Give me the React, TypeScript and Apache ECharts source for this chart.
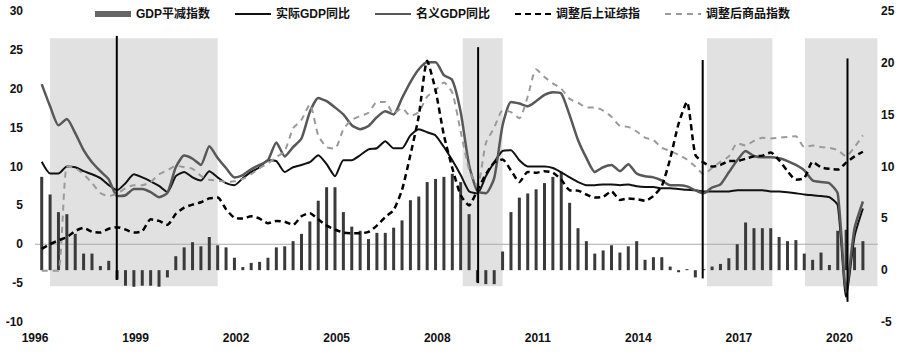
import React, { useEffect, useRef } from "react";
import * as echarts from "echarts";

// ---- data (quarterly, 1996Q1 .. 2020Q3) ----
const years = [1996, 1997, 1998, 1999, 2000, 2001, 2002, 2003, 2004, 2005, 2006, 2007, 2008, 2009, 2010, 2011, 2012, 2013, 2014, 2015, 2016, 2017, 2018, 2019, 2020];
const quarterNames = ["Q1", "Q2", "Q3", "Q4"];
const tickYears = [1996, 1999, 2002, 2005, 2008, 2011, 2014, 2017, 2020];

// GDP deflator (right axis)
const deflator = [
  9.0, 7.3, 5.6, 5.4, 3.5, 1.6, 1.6, 0.4, 0.9, -0.9,
  -1.5, -1.6, -1.5, -1.5, -1.6, -0.7, 1.35, 2.2, 2.7, 2.3,
  3.2, 2.4, 2.2, 1.2, 0.3, 0.7, 0.8, 1.2, 2.2, 2.3,
  2.8, 3.5, 4.7, 6.7, 8.0, 8.0, 5.6, 4.2, 3.8, 3.0,
  3.6, 3.6, 4.1, 4.8, 6.75, 7.1, 8.5, 8.8, 9.0, 9.3,
  8.5, 5.4, -1.2, -1.35, -1.35, 1.8, 5.6, 7.0, 7.4, 7.8,
  8.4, 9.0, 9.5, 6.5, 4.05, 2.8, 1.6, 1.9, 2.4, 1.7,
  2.3, 2.8, 1.0, 1.25, 1.25, 0.35, -0.2, 0.1, -0.7, 0.1,
  0.35, 0.6, 1.15, 2.5, 4.6, 4.05, 4.05, 4.05, 3.2, 2.8,
  2.9, 1.6, 1.0, 1.7, 0.5, 3.8, 3.9, 2.2, 2.8,
];

// Real GDP YoY (left axis)
const realGdp = [
  10.6, 9.1, 9.1, 10.0, 9.9, 9.4, 9.0, 8.5, 7.6, 6.95,
  7.85, 9.0, 8.6, 8.1, 7.5, 6.7, 8.75, 9.3, 8.6, 8.2,
  9.4, 8.6, 7.85, 7.6, 8.5, 9.3, 9.9, 10.8, 10.7, 9.3,
  9.9, 10.2, 10.55, 11.45, 10.3, 8.75, 10.8, 10.8, 11.45, 12.2,
  12.35, 13.25, 12.35, 12.35, 14.0, 14.8, 14.4, 14.0, 12.5, 10.8,
  8.9, 6.8, 6.55, 8.75, 10.55, 12.0, 12.1, 10.8, 10.0, 10.0,
  10.0, 9.8, 9.25, 8.6, 8.0, 7.6, 7.6, 7.7, 7.7, 7.6,
  7.7, 7.45, 7.35, 7.35, 7.2, 7.2, 7.1, 7.0, 6.95, 6.8,
  6.8, 6.8, 6.8, 6.95, 6.95, 6.95, 6.95, 6.8, 6.8, 6.7,
  6.55, 6.4, 6.3, 6.2, 6.05, 5.0, -6.8, 1.0, 4.6,
];

// Nominal GDP YoY (left axis)
const nominalGdp = [
  20.6, 17.75, 15.3, 16.1, 14.3, 12.1, 10.55, 9.4, 8.35, 6.2,
  6.3, 7.1, 7.1, 6.7, 6.05, 6.6, 9.9, 11.4, 11.0, 10.2,
  12.6, 11.1, 9.8, 8.6, 8.9, 9.65, 10.2, 10.8, 13.1, 11.3,
  12.5, 13.6, 17.0, 18.8, 18.4, 17.6, 16.7, 15.3, 14.8, 15.2,
  16.35, 17.1, 16.7, 18.8, 20.85, 22.5, 23.4, 23.4, 21.75, 21.1,
  17.0, 10.2, 6.8, 6.55, 8.5, 15.3, 18.3, 18.1, 17.75, 18.4,
  19.2, 19.55, 19.4, 16.6, 13.4, 11.1, 9.3, 9.9, 10.2, 9.4,
  10.3, 9.1, 8.75, 8.6, 8.2, 7.6, 7.6, 7.45, 6.95, 6.55,
  7.3, 7.7, 9.25, 10.8, 12.0, 11.35, 11.2, 11.2, 11.05, 10.7,
  10.2, 9.5, 8.2, 8.0, 7.85, 6.5, -5.9, 2.05, 5.5,
];

// Adjusted Shanghai composite (left axis)
const shIndex = [
  -0.6, 0.0, 0.5, 0.9, 1.7, 2.1, 1.6, 1.5, 2.0, 2.2,
  1.9, 1.5, 1.7, 3.2, 3.0, 2.5, 3.9, 4.7, 5.1, 5.4,
  5.9, 6.0, 4.5, 3.4, 3.3, 3.6, 3.3, 2.7, 3.0, 2.9,
  2.5, 3.6, 4.0, 3.2, 2.4, 1.9, 1.5, 1.4, 1.4, 1.6,
  2.4, 3.5, 4.4, 7.0, 11.5, 16.5, 23.6, 19.8, 14.0, 9.8,
  6.3, 5.0, 7.0, 9.0, 10.5, 10.9, 9.5, 8.0, 9.3, 9.2,
  9.4, 9.2, 8.3, 6.95, 6.9, 6.4, 6.0, 6.1, 6.8, 5.7,
  5.9, 5.8, 5.6, 6.2, 7.5, 11.0, 15.5, 18.3, 11.5, 10.5,
  10.0, 10.2, 10.7, 10.7, 11.0, 11.3, 11.4, 11.8, 10.8, 9.4,
  8.3, 8.5, 10.6, 9.9, 9.7, 9.6, 10.5, 11.3, 11.9,
];

// Adjusted commodity index (left axis)
const commodity = [
  -3.4, -3.4, -3.4, 10.0, 9.8, 9.0, 7.9, 6.6, 6.2, 6.5,
  7.2, 7.6, 7.6, 8.0, 9.0, 9.5, 10.1, 9.9, 9.7, 8.8,
  8.3, 8.2, 8.0, 8.1, 8.4, 9.0, 9.8, 10.4, 11.2, 12.0,
  14.9, 16.0, 18.0, 14.0, 12.5, 12.3, 14.8, 16.0, 16.5, 16.9,
  18.3, 18.3, 16.8, 17.5, 16.5, 17.0, 19.0, 19.8, 20.8, 19.5,
  14.5, 9.6, 7.5, 13.0, 15.0, 17.2, 17.0, 16.2, 19.0, 22.5,
  21.5, 20.7, 20.0, 18.7, 18.2, 17.6, 17.6, 17.2, 16.4, 15.2,
  15.1, 14.5, 13.7, 13.4, 12.4, 12.0, 11.5, 10.9, 10.0, 9.0,
  9.8, 10.6, 11.3, 13.0, 12.7, 13.3, 13.7, 13.6, 13.7, 13.8,
  13.9, 12.5, 12.7, 12.5, 12.4, 12.1, 11.3, 12.5, 14.0,
];

// shaded periods [start, end] (years)
const shadedPeriods = [
  [1996.45, 2001.45],
  [2008.76, 2009.95],
  [2016.05, 2018.0],
  [2018.97, 2021.13],
];
const shadeTop = 26.5;
const shadeBottom = -5.4;

// vertical markers [year, top, bottom] (left-axis units)
const markers = [
  [1998.44, 26.8, -4.6],
  [2009.22, 25.35, -5.0],
  [2015.92, 23.7, -4.4],
  [2020.24, 23.9, -7.4],
];

const X_MIN = 1996;
const X_MAX = 2021.15;

const FONT = "'Liberation Sans', Arial, 'Noto Sans CJK SC', sans-serif";

export default function App() {
  const ref = useRef<HTMLDivElement>(null);
  useEffect(() => {
    if (!ref.current) return;
    const chart = echarts.init(ref.current, undefined, { renderer: "svg" });

    const quarters: { label: string; pos: number }[] = [];
    years.forEach((y) =>
      quarterNames.forEach((q, qi) => quarters.push({ label: y + q, pos: y + 0.2 + 0.25 * qi }))
    );
    const n = deflator.length;
    const qs = quarters.slice(0, n);
    const toPairs = (arr: number[]) => qs.map((q, i) => [q.pos, arr[i]]);

    const lineBase = { type: "line", symbol: "none", silent: true, yAxisIndex: 0 };

    const mkLine = (name: string, arr: number[], color: string, width: number, type: any, z: number) => ({
      ...lineBase,
      name,
      data: toPairs(arr),
      smooth: 0.2,
      itemStyle: { color },
      lineStyle: { color, width, type },
      z,
    });

    const series: any[] = [
      {
        ...lineBase,
        name: "bands",
        data: [],
        z: 0,
        markArea: {
          silent: true,
          itemStyle: { color: "#e1e1e1" },
          data: shadedPeriods.map(([a, b]) => [
            { coord: [a, shadeTop] },
            { coord: [b, shadeBottom] },
          ]),
        },
      },
      {
        ...lineBase,
        name: "zero",
        data: [[X_MIN, 0], [X_MAX, 0]],
        lineStyle: { color: "#aaaaaa", width: 1 },
        z: 1,
      },
      {
        type: "bar",
        name: "GDP平减指数",
        yAxisIndex: 1,
        barWidth: 3,
        silent: true,
        itemStyle: { color: "#3a3a3a" },
        data: toPairs(deflator),
        z: 2,
      },
      mkLine("实际GDP同比", realGdp, "#111111", 2, "solid", 3),
      mkLine("名义GDP同比", nominalGdp, "#585858", 2.5, "solid", 3),
      mkLine("调整后上证综指", shIndex, "#000000", 2.5, [6, 4], 4),
      mkLine("调整后商品指数", commodity, "#9a9a9a", 2, [6, 5], 3),
      ...markers.map(([t, top, bottom], i) => ({
        ...lineBase,
        name: "marker" + i,
        data: [[t, top], [t, bottom]],
        lineStyle: { color: "#000000", width: 2 },
        z: 5,
      })),
    ];

    const axisLabelStyle = { color: "#111", fontSize: 12, fontWeight: "bold", fontFamily: FONT };
    const hideSymbol = { opacity: 0 };

    chart.setOption({
      animation: false,
      grid: { left: 35, right: 22, top: 11, bottom: 35, containLabel: false },
      legend: {
        left: 95,
        top: 8,
        padding: 0,
        itemWidth: 36,
        itemHeight: 6,
        itemGap: 24,
        selectedMode: false,
        textStyle: { fontSize: 12, fontWeight: "bold", color: "#111", fontFamily: FONT },
        data: [
          { name: "GDP平减指数", icon: "rect", itemStyle: { color: "#666666" } },
          { name: "实际GDP同比", itemStyle: hideSymbol },
          { name: "名义GDP同比", itemStyle: hideSymbol },
          { name: "调整后上证综指", itemStyle: hideSymbol },
          { name: "调整后商品指数", itemStyle: hideSymbol },
        ],
      },
      xAxis: {
        type: "value",
        min: X_MIN,
        max: X_MAX,
        interval: 1,
        axisLine: { show: false },
        axisTick: { show: false },
        splitLine: { show: false },
        axisLabel: {
          ...axisLabelStyle,
          margin: 10,
          showMinLabel: true,
          showMaxLabel: true,
          formatter: (v: number) => (tickYears.indexOf(Math.round(v * 100) / 100) >= 0 ? String(v) : ""),
        },
      },
      yAxis: [
        {
          type: "value",
          min: -10,
          max: 30,
          interval: 5,
          axisLine: { show: false },
          axisTick: { show: false },
          splitLine: { show: false },
          axisLabel: { ...axisLabelStyle, margin: 12 },
        },
        {
          type: "value",
          min: -5,
          max: 25,
          interval: 5,
          position: "right",
          axisLine: { show: false },
          axisTick: { show: false },
          splitLine: { show: false },
          axisLabel: { ...axisLabelStyle, margin: 3 },
        },
      ],
      series,
    });
    return () => chart.dispose();
  }, []);
  return (
    <div
      ref={ref}
      style={{ position: "absolute", left: 0, top: 0, width: 900, height: 357, background: "#fff" }}
    />
  );
}
